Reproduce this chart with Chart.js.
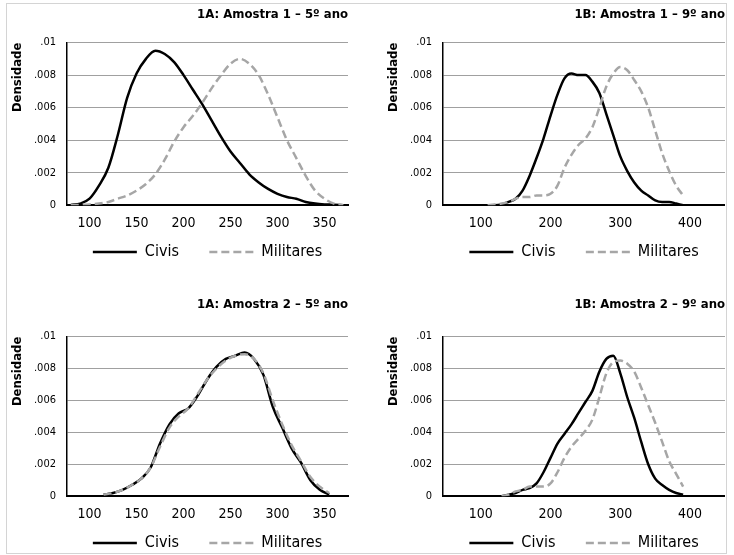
<!DOCTYPE html>
<html>
<head>
<meta charset="utf-8">
<script src="https://cdn.jsdelivr.net/npm/chart.js@4.4.1/dist/chart.umd.min.js"></script>
<style>
  html, body { margin: 0; padding: 0; width: 734px; height: 555px; overflow: hidden; background: #fff; }
  canvas { position: absolute; }
  #frame { position: absolute; left: 6px; top: 3px; width: 719px; height: 549px; border: 1px solid #d4d4d4; z-index: 10; pointer-events: none; }
</style>
</head>
<body>
<div id="frame"></div>
<canvas id="c1" width="367" height="277" style="left:0;top:0"></canvas>
<canvas id="c2" width="358" height="277" style="left:367px;top:0"></canvas>
<canvas id="c3" width="367" height="291" style="left:0;top:277px"></canvas>
<canvas id="c4" width="358" height="291" style="left:367px;top:277px"></canvas>
<script>
// density curves

// 1A: Amostra 1 - 5º ano
const xs1 = [80, 90, 100, 110, 120, 130, 140, 150, 160, 170, 180, 190, 200, 210, 220,
  230, 240, 250, 260, 270, 280, 290, 300, 310, 320, 330, 340, 350, 360, 370];
const civis1 = [0.00002, 0.0001, 0.0004, 0.0012, 0.0023, 0.0043, 0.0066, 0.0081, 0.0090, 0.0095,
  0.0093, 0.0088, 0.0080, 0.0071, 0.0062, 0.0052, 0.0042, 0.0033, 0.0026, 0.0019,
  0.0014, 0.0010, 0.0007, 0.0005, 0.0004, 0.0002, 0.0001, 0.00005, 0.00003, 0];
const militares1 = [0, 0.00002, 0.00005, 0.0001, 0.0002, 0.0004, 0.0006, 0.0009, 0.0013, 0.0019,
  0.0028, 0.0039, 0.0048, 0.0055, 0.0063, 0.0072, 0.0080, 0.0087, 0.0090, 0.0087,
  0.0080, 0.0068, 0.0054, 0.0040, 0.0029, 0.0018, 0.0009, 0.0004, 0.0001, 0];

// 1B: Amostra 1 - 9º ano
const xs2 = [110, 120, 130, 140, 150, 160, 170, 180, 190, 200, 210, 220, 230, 240, 250,
  260, 270, 280, 290, 300, 310, 320, 330, 340, 350, 360, 370, 380, 390];
const civis2 = [0, 0, 0.00005, 0.0002, 0.0004, 0.0009, 0.0018, 0.0029, 0.0041, 0.0055,
  0.0068, 0.0078, 0.0081, 0.0080, 0.0080, 0.0076, 0.0069, 0.0056, 0.0043, 0.0030,
  0.0021, 0.0014, 0.0009, 0.0006, 0.0003, 0.0002, 0.0002, 0.0001, 0];
const militares2 = [0, 0.00005, 0.0001, 0.0002, 0.0004, 0.0005, 0.0005, 0.0006, 0.0006, 0.0007,
  0.0012, 0.0023, 0.0031, 0.0037, 0.0041, 0.0048, 0.0060, 0.0073, 0.0081, 0.0085,
  0.0083, 0.0077, 0.0070, 0.0060, 0.0046, 0.0032, 0.0021, 0.0012, 0.0006];

// 1A: Amostra 2 - 5º ano
const xs3 = [115, 125, 135, 145, 155, 165, 175, 185, 195, 205, 215, 225, 235, 245, 255,
  265, 275, 285, 295, 305, 315, 325, 335, 345, 355];
const civis3 = [0.0001, 0.0002, 0.0004, 0.0007, 0.0011, 0.0018, 0.0033, 0.0045, 0.0052, 0.0055,
  0.0063, 0.0073, 0.0081, 0.0086, 0.0088, 0.0090, 0.0086, 0.0076, 0.0056, 0.0043,
  0.0030, 0.0021, 0.0010, 0.0004, 0.0001];
const militares3 = [0.0001, 0.0002, 0.0004, 0.0007, 0.0011, 0.0018, 0.0031, 0.0043, 0.0050, 0.0055,
  0.0064, 0.0073, 0.0080, 0.0085, 0.0088, 0.0089, 0.0086, 0.0077, 0.0060, 0.0045,
  0.0032, 0.0022, 0.0012, 0.0006, 0.0002];

// 1B: Amostra 2 - 9º ano
const xs4 = [130, 140, 150, 160, 170, 180, 190, 200, 210, 220, 230, 240, 250, 260, 270,
  280, 290, 300, 310, 320, 330, 340, 350, 360, 370, 380, 390];
const civis4 = [0, 0.0001, 0.0002, 0.0004, 0.0005, 0.0008, 0.0015, 0.0024, 0.0033, 0.0039,
  0.0045, 0.0052, 0.0059, 0.0066, 0.0078, 0.0086, 0.0088, 0.0077, 0.0062, 0.0049,
  0.0034, 0.0020, 0.0011, 0.0007, 0.0004, 0.0002, 0.0001];
const militares4 = [0, 0.0001, 0.0003, 0.0004, 0.0006, 0.0006, 0.0006, 0.0008, 0.0015, 0.0024,
  0.0031, 0.0036, 0.0041, 0.0048, 0.0062, 0.0077, 0.0084, 0.0085, 0.0083, 0.0078,
  0.0068, 0.0057, 0.0046, 0.0034, 0.0022, 0.0014, 0.0006];

const titles = ["1A: Amostra 1 – 5º ano", "1B: Amostra 1 – 9º ano", "1A: Amostra 2 – 5º ano", "1B: Amostra 2 – 9º ano"];
const seriesNames = ["Civis", "Militares"];
const yTicks = [0, 0.002, 0.004, 0.006, 0.008, 0.01];
const xTicksA = [100, 150, 200, 250, 300, 350];
const xTicksB = [100, 200, 300, 400];

const FONT = "'Liberation Sans Narrow', 'Arial Narrow', 'DejaVu Sans Condensed', sans-serif";
Chart.defaults.font.family = FONT;
Chart.defaults.color = "#000";

function toPoints(xs, ys) {
  return xs.map((x, i) => ({ x: x, y: ys[i] }));
}

function fmtDensity(v) {
  const s = String(+v.toFixed(3));
  return s.replace(/^0\./, ".");
}

function makePanel(id, p) {
  new Chart(document.getElementById(id), {
    type: "line",
    data: {
      datasets: [
        {
          label: seriesNames[0],
          data: toPoints(p.xs, p.civis),
          borderColor: "#000",
          borderWidth: 2.5,
          pointRadius: 0,
          cubicInterpolationMode: "monotone",
          order: 1,
        },
        {
          label: seriesNames[1],
          data: toPoints(p.xs, p.militares),
          borderColor: "#a6a6a6",
          borderWidth: 2.5,
          borderDash: [8, 4],
          pointRadius: 0,
          cubicInterpolationMode: "monotone",
          order: 0,
        },
      ],
    },
    options: {
      responsive: false,
      animation: false,
      layout: { padding: p.padding },
      plugins: {
        tooltip: { enabled: false },
        title: {
          display: true,
          text: p.title,
          align: "end",
          fullSize: false,
          color: "#000",
          font: { size: 13, weight: "bold" },
          padding: p.titlePadding,
        },
        legend: {
          position: "bottom",
          fullSize: false,
          labels: {
            usePointStyle: true,
            pointStyle: "line",
            pointStyleWidth: 44,
            padding: 3,
            color: "#000",
            font: { size: 16 },
            sort: (a, b) => a.datasetIndex - b.datasetIndex,
            generateLabels: (chart) => {
              const items = Chart.defaults.plugins.legend.labels.generateLabels(chart);
              items.forEach((it) => {
                // legend line takes the dataset's stroke, not the point style
                const ds = chart.data.datasets[it.datasetIndex];
                it.lineDash = ds.borderDash || [];
                it.lineWidth = ds.borderWidth;
                it.strokeStyle = ds.borderColor;
                if (it.datasetIndex === 0) it.text = it.text + "      ";
              });
              return items;
            },
          },
        },
      },
      scales: {
        x: {
          type: "linear",
          min: p.xMin,
          max: p.xMax,
          afterBuildTicks: (s) => { s.ticks = p.xTicks.map((v) => ({ value: v })); },
          ticks: { padding: 9.5, font: { size: 14 }, color: "#000" },
          grid: { display: false, drawTicks: false },
          border: { color: "#000", width: 2 },
        },
        y: {
          min: 0,
          max: 0.01,
          afterBuildTicks: (s) => { s.ticks = yTicks.map((v) => ({ value: v })); },
          afterFit: (s) => { s.width = 60; },
          ticks: { padding: 11, font: { size: 11 }, color: "#000", callback: (v) => fmtDensity(v) },
          grid: {
            drawTicks: false,
            color: (c) => (c.tick && c.tick.value === 0 ? "rgba(0,0,0,0)" : "#a0a0a0"),
          },
          border: { color: "#000", width: 1.5 },
          title: {
            display: true,
            text: "Densidade",
            align: "end",
            color: "#000",
            font: { size: 13, weight: "bold" },
            padding: { top: 3, bottom: 0 },
          },
        },
      },
    },
  });
}

makePanel("c1", {
  xs: xs1, civis: civis1, militares: militares1, title: titles[0],
  xMin: 76, xMax: 375, xTicks: xTicksA,
  padding: { left: 7, right: 19, top: 0, bottom: 7 },
  titlePadding: { top: 7, bottom: 20 },
});
makePanel("c2", {
  xs: xs2, civis: civis2, militares: militares2, title: titles[1],
  xMin: 46, xMax: 450, xTicks: xTicksB,
  padding: { left: 16, right: 0, top: 0, bottom: 7 },
  titlePadding: { top: 7, bottom: 20 },
});
makePanel("c3", {
  xs: xs3, civis: civis3, militares: militares3, title: titles[2],
  xMin: 76, xMax: 375, xTicks: xTicksA,
  padding: { left: 7, right: 19, top: 0, bottom: 7 },
  titlePadding: { top: 20, bottom: 24 },
});
makePanel("c4", {
  xs: xs4, civis: civis4, militares: militares4, title: titles[3],
  xMin: 46, xMax: 450, xTicks: xTicksB,
  padding: { left: 16, right: 0, top: 0, bottom: 7 },
  titlePadding: { top: 20, bottom: 24 },
});
</script>
</body>
</html>
